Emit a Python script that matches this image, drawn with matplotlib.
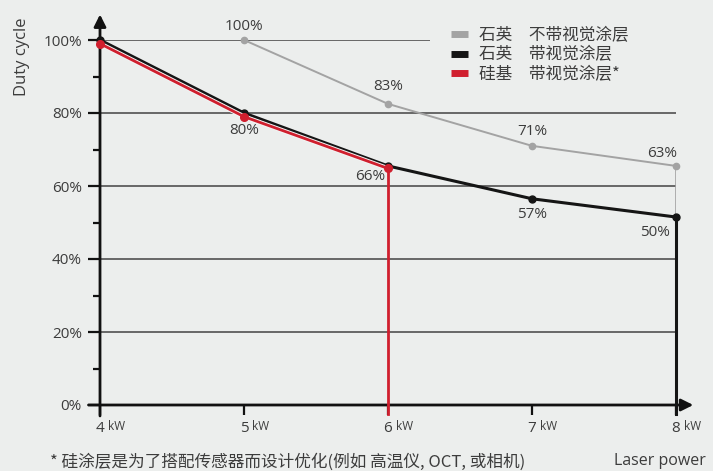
import matplotlib.pyplot as plt
import matplotlib.patheffects as pe
from matplotlib.lines import Line2D

plt.rcParams['font.family'] = ['Open Sans', 'Noto Sans CJK SC', 'DejaVu Sans']

# Daten (Laserleistung in kW, Einschaltdauer in %)
power = [4, 5, 6, 7, 8]
quartz_plain_x = [5, 6, 7, 8]
quartz_plain = [100, 82.5, 71, 65.5]
quartz_plain_labels = ['100%', '83%', '71%', '63%']
quartz_coated_x = [4, 5, 6, 7, 8]
quartz_coated = [100, 80, 65.5, 56.5, 51.5]
quartz_coated_labels = ['', '80%', '66%', '57%', '50%']
silicon_coated_x = [4, 5, 6]
silicon_coated = [99, 79, 64.8]
legend_labels = ['石英\u3000不带视觉涂层', '石英\u3000带视觉涂层', '硅基\u3000带视觉涂层*']
footnote = '* 硅涂层是为了搭配传感器而设计优化(例如 高温仪, OCT, 或相机)'

bg = '#eceeed'
txt = '#3c3c3c'
c_gray = '#a3a3a3'
c_black = '#151515'
c_red = '#d01f2e'

fig = plt.figure(figsize=(7.13, 4.71), dpi=100, facecolor=bg)
ax = fig.add_axes([100/713, 66/471, 576/713, 365/471], facecolor=bg)
ax.set_xlim(4, 8)
ax.set_ylim(0, 100)
for s in ax.spines.values():
    s.set_visible(False)

# Gitterlinien
ax.hlines([20, 40, 60, 80], 4, 8, color='#505050', lw=1.2, zorder=1)
ax.hlines(100, 4, 6.29, color='#505050', lw=1.2, zorder=1)

# Achsen mit Pfeilen
ax.annotate('', xy=(4, 107), xytext=(4, -3), annotation_clip=False,
            arrowprops=dict(arrowstyle='-|>', lw=2, color='#111111', mutation_scale=18,
                            shrinkA=0, shrinkB=0))
ax.annotate('', xy=(8.12, 0), xytext=(3.92, 0), annotation_clip=False,
            arrowprops=dict(arrowstyle='-|>', lw=2, color='#111111', mutation_scale=18,
                            shrinkA=0, shrinkB=0))

ax.set_yticks(range(0, 101, 20))
ax.set_yticks(range(10, 100, 20), minor=True)
ax.set_yticklabels([f'{v}%' for v in range(0, 101, 20)], color=txt, fontsize=11)
ax.tick_params(axis='y', which='major', length=9, width=1.6, color='#111111', pad=4)
ax.tick_params(axis='y', which='minor', length=5, width=1.6, color='#111111')
ax.set_xticks(power)
ax.set_xticklabels([])
ax.tick_params(axis='x', length=7, width=1.6, color='#111111')

for p in power:
    ax.annotate(str(p), (p, 0), xytext=(0, -23), textcoords='offset pixels',
                ha='center', va='center', fontsize=11, color=txt, annotation_clip=False)
    ax.annotate('kW', (p, 0), xytext=(8, -22), textcoords='offset pixels',
                ha='left', va='center', fontsize=8.5, color=txt, annotation_clip=False)

# Fallinien
ax.plot([8, 8], [quartz_plain[-1], quartz_coated[-1]], color=c_gray, lw=1.2, zorder=2)
ax.plot([8, 8], [quartz_coated[-1], -2.5], color=c_black, lw=2.2, zorder=3, clip_on=False)
ax.plot([6, 6], [silicon_coated[-1], -2.5], color=c_red, lw=2, zorder=4, clip_on=False)

# Kurven
ax.plot(quartz_plain_x, quartz_plain, color=c_gray, lw=1.4, marker='o', ms=4.5, zorder=3, clip_on=False)
ax.plot(quartz_coated_x, quartz_coated, color=c_black, lw=2.2, marker='o', ms=5, zorder=4, clip_on=False)
ax.plot(silicon_coated_x, silicon_coated, color=c_red, lw=2, zorder=5, clip_on=False,
        path_effects=[pe.Stroke(linewidth=3.4, foreground='#f4f4f4'), pe.Normal()])
ax.plot(silicon_coated_x, silicon_coated, color=c_red, lw=0, marker='o', ms=5.5, zorder=6, clip_on=False)

# Werte
plain_off = [(0, 13), (0, 17), (0, 14), (-14, 12)]
coated_off = [(0, 0), (0, -18), (-18, -11), (0, -16), (-21, -15)]
for x, y, lab, off in zip(quartz_plain_x, quartz_plain, quartz_plain_labels, plain_off):
    ax.annotate(lab, (x, y), xytext=off, textcoords='offset pixels', ha='center', va='center',
                fontsize=11, color=txt, annotation_clip=False)
for x, y, lab, off in zip(quartz_coated_x, quartz_coated, quartz_coated_labels, coated_off):
    if lab:
        ax.annotate(lab, (x, y), xytext=off, textcoords='offset pixels', ha='center', va='center',
                    fontsize=11, color=txt, annotation_clip=False)

handles = [Line2D([0], [0], color=c, lw=5, solid_capstyle='butt') for c in (c_gray, c_black, c_red)]
ax.legend(handles, legend_labels, loc='upper left', bbox_to_anchor=(451/713, 1 - 27/471),
          bbox_transform=fig.transFigure, frameon=False, handlelength=1.0, handletextpad=0.7,
          labelspacing=0.15, borderpad=0, borderaxespad=0,
          prop={'family': 'Noto Sans CJK SC', 'size': 12}, labelcolor=txt)

fig.text(22/713, 1 - 57/471, 'Duty cycle', rotation=90, ha='center', va='center', fontsize=12, color=txt)
fig.text(660/713, 1 - 461/471, 'Laser power', ha='center', va='center', fontsize=11.5, color=txt)
fig.text(50/713, 1 - 462/471, footnote, ha='left', va='center', fontsize=12, color=txt,
         family=['Noto Sans CJK SC', 'DejaVu Sans'])

fig.savefig('out.png', dpi=100, facecolor=bg)
